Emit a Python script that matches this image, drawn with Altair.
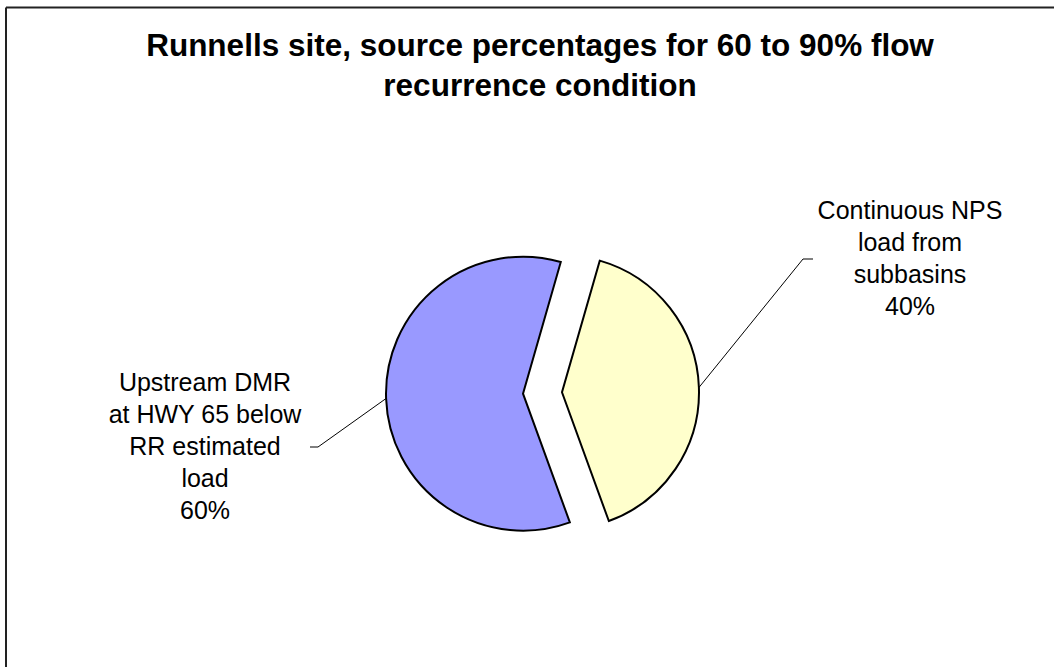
import math
import altair as alt
import pandas as pd

# ---- chart values -------------------------------------------------------
sources = [
    "Continuous NPS load from subbasins",
    "Upstream DMR at HWY 65 below RR estimated load",
]
label_lines = [
    ["Continuous NPS", "load from", "subbasins"],
    ["Upstream DMR", "at HWY 65 below", "RR estimated", "load"],
]
percent = [40, 60]
slice_colors = ["#FFFFCC", "#9999FF"]
title_lines = [
    "Runnells site, source percentages for 60 to 90% flow",
    "recurrence condition",
]

# ---- layout --------------------------------------------------------------
W, H = 1054, 667
CX, CY = 542.5, 393.0      # pie centre
RADIUS = 137
EXPLODE = 19.5             # distance each slice is pulled out
FIRST_ANGLE = 16           # degrees clockwise from 12 o'clock
FONT = "Liberation Sans"
LABEL_SIZE, LABEL_LINE = 25, 32
TITLE_SIZE, TITLE_LINE = 31.5, 40
# label block centre, leader elbow and leader end for each slice
label_layout = [
    {"lx": 910, "ly": 259, "elbow": (803, 259), "end": (813, 259)},
    {"lx": 205, "ly": 447, "elbow": (318, 447), "end": (310, 447)},
]

# ---- derived geometry ----------------------------------------------------
total = sum(percent)
rows, leaders, labels = [], [], []
acc = math.radians(FIRST_ANGLE)
for i, (src, pct) in enumerate(zip(sources, percent)):
    span = 2 * math.pi * pct / total
    start, end = acc, acc + span
    mid = (start + end) / 2
    acc = end
    cx = CX + EXPLODE * math.sin(mid)
    cy = CY - EXPLODE * math.cos(mid)
    rows.append({"source": src, "pct": pct, "start": start, "end": end,
                 "cx": cx, "cy": cy})
    # leader line: from the arc midpoint to the elbow, then a short tail
    px = cx + RADIUS * math.sin(mid)
    py = cy - RADIUS * math.cos(mid)
    lay = label_layout[i]
    for k, (x, y) in enumerate([(px, py), lay["elbow"], lay["end"]]):
        leaders.append({"source": src, "k": k, "x": x, "y": y})
    lines = label_lines[i] + [f"{pct}%"]
    # vertical middle of the whole text block sits on ly
    first_y = lay["ly"] - (len(lines) - 1) * LABEL_LINE / 2
    labels.append({"source": src, "x": lay["lx"], "y": first_y,
                   "text": "\n".join(lines)})

pie_df = pd.DataFrame(rows)
leader_df = pd.DataFrame(leaders)
label_df = pd.DataFrame(labels)

color_scale = alt.Scale(domain=sources, range=slice_colors)

pie = alt.Chart(pie_df).mark_arc(
    outerRadius=RADIUS, stroke="black", strokeWidth=2, strokeJoin="miter"
).encode(
    theta=alt.Theta("start:Q", scale=None),
    theta2="end:Q",
    x=alt.X("cx:Q", scale=None),
    y=alt.Y("cy:Q", scale=None),
    color=alt.Color("source:N", scale=color_scale, legend=None),
)

leader = alt.Chart(leader_df).mark_line(color="black", strokeWidth=1).encode(
    x=alt.X("x:Q", scale=None),
    y=alt.Y("y:Q", scale=None),
    detail="source:N",
    order="k:Q",
)

label = alt.Chart(label_df).mark_text(
    font=FONT, fontSize=LABEL_SIZE, lineHeight=LABEL_LINE, lineBreak="\n",
    align="center", baseline="middle", color="black",
).encode(
    x=alt.X("x:Q", scale=None),
    y=alt.Y("y:Q", scale=None),
    text="text:N",
)

one = alt.Data(values=[{}])
title = alt.Chart(one).mark_text(
    font=FONT, fontSize=TITLE_SIZE, fontWeight="bold", lineHeight=TITLE_LINE,
    lineBreak="\n", align="center", baseline="middle", color="black",
).encode(
    x=alt.value(540), y=alt.value(47),
    text=alt.value("\n".join(title_lines)),
)

frame_top = alt.Chart(one).mark_rule(color="#222222", strokeWidth=2).encode(
    x=alt.value(6), x2=alt.value(W), y=alt.value(7.5)
)
frame_left = alt.Chart(one).mark_rule(color="#222222", strokeWidth=2).encode(
    x=alt.value(6), y=alt.value(7.5), y2=alt.value(H)
)

chart = alt.layer(frame_top, frame_left, pie, leader, label, title).properties(
    width=W, height=H, padding=0, autosize=alt.AutoSizeParams(type="none"),
    background="white",
).configure_view(stroke=None)

chart.save("out.html", embed_options={"renderer": "svg", "actions": False})
